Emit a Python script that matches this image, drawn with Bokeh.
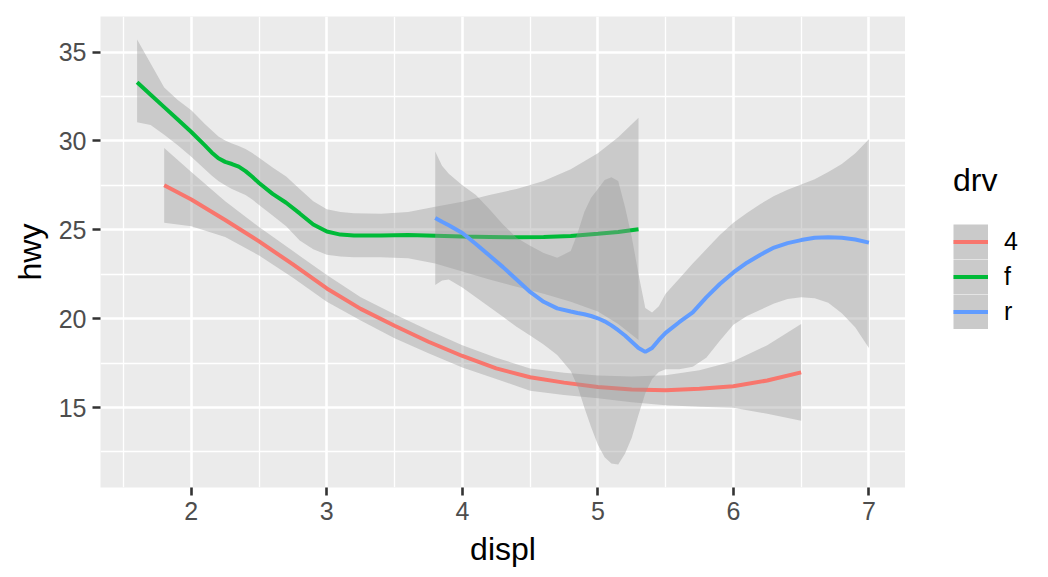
from bokeh.plotting import figure
from bokeh.layouts import row
from bokeh.models import (Range1d, FixedTicker, Legend, LegendItem,
                          ColumnDataSource)
from bokeh.embed import file_html
from bokeh.resources import INLINE

# ---- data (loess fits of hwy ~ displ by drv) ----
x4 = [1.8, 2.0, 2.25, 2.5, 2.75, 3.0, 3.25, 3.5, 3.75, 4.0, 4.25, 4.5, 4.75,
      5.0, 5.25, 5.5, 5.75, 6.0, 6.25, 6.5]
y4 = [27.5, 26.7, 25.55, 24.35, 23.05, 21.7, 20.55, 19.6, 18.7, 17.9, 17.2,
      16.7, 16.4, 16.15, 16.02, 15.97, 16.05, 16.2, 16.52, 16.98]
lo4 = [25.4, 25.2, 24.6, 23.55, 22.3, 20.95, 19.9, 18.9, 18.05, 17.25, 16.6,
       15.95, 15.7, 15.52, 15.3, 15.13, 15.05, 14.98, 14.65, 14.25]
hi4 = [29.6, 28.25, 26.6, 25.15, 23.8, 22.45, 21.2, 20.25, 19.35, 18.5, 17.8,
       17.2, 16.95, 16.8, 16.75, 16.82, 17.1, 17.6, 18.5, 19.7]

xf = [1.6, 1.7, 1.8, 1.9, 2.0, 2.1, 2.15, 2.2, 2.25, 2.3, 2.35, 2.4, 2.45,
      2.5, 2.6, 2.7, 2.8, 2.9, 3.0, 3.1, 3.2, 3.4, 3.6, 3.8, 4.0, 4.2, 4.4,
      4.6, 4.8, 5.0, 5.15, 5.3]
yf = [33.3, 32.6, 31.9, 31.2, 30.5, 29.75, 29.35, 29.02, 28.82, 28.7, 28.55,
      28.3, 27.98, 27.63, 27.02, 26.52, 25.92, 25.3, 24.9, 24.73, 24.68,
      24.68, 24.7, 24.66, 24.62, 24.6, 24.58, 24.6, 24.65, 24.78, 24.88, 25.03]
lof = [31.05, 30.9, 30.35, 29.75, 29.11, 28.4, 28.05, 27.75, 27.5, 27.3,
       27.12, 26.95, 26.7, 26.4, 25.8, 25.2, 24.4, 23.9, 23.6, 23.5, 23.45,
       23.45, 23.4, 23.1, 22.65, 22.2, 21.8, 21.4, 20.95, 20.4, 19.7, 18.8]
hif = [35.7, 34.35, 33.0, 32.3, 31.73, 30.95, 30.6, 30.25, 30.02, 29.85,
       29.72, 29.55, 29.32, 29.05, 28.5, 28.0, 27.3, 26.6, 26.15, 26.0, 25.93,
       25.9, 26.0, 26.3, 26.58, 26.95, 27.3, 27.75, 28.4, 29.3, 30.2, 31.3]

xr = [3.8, 3.85, 3.9, 4.0, 4.1, 4.2, 4.3, 4.4, 4.5, 4.6, 4.7, 4.8, 4.85, 4.9,
      4.95, 5.0, 5.05, 5.1, 5.15, 5.2, 5.25, 5.3, 5.35, 5.4, 5.45, 5.5, 5.6,
      5.7, 5.8, 5.9, 6.0, 6.1, 6.2, 6.3, 6.4, 6.5, 6.6, 6.7, 6.8, 6.9, 7.0]
yr = [25.66, 25.45, 25.25, 24.82, 24.2, 23.55, 22.9, 22.2, 21.5, 20.95, 20.58,
      20.4, 20.32, 20.25, 20.15, 20.02, 19.85, 19.62, 19.35, 19.05, 18.7, 18.35,
      18.13, 18.35, 18.8, 19.2, 19.8, 20.35, 21.2, 21.95, 22.6, 23.15, 23.6,
      24.0, 24.25, 24.42, 24.55, 24.58, 24.55, 24.45, 24.28]
lor = [21.9, 22.15, 22.2, 21.75, 21.2, 20.65, 20.1, 19.55, 19.05, 18.55, 17.95,
       17.05, 16.2, 15.0, 13.9, 12.9, 12.2, 11.85, 11.8, 12.4, 13.3, 14.6,
       15.8, 16.6, 17.0, 17.15, 17.15, 17.3, 17.8, 18.75, 19.65, 20.15, 20.5,
       20.85, 21.1, 21.2, 21.15, 20.9, 20.3, 19.5, 18.35]
hir = [29.4, 28.6, 28.15, 27.5, 26.95, 26.15, 25.3, 24.55, 24.1, 23.7, 23.42,
       23.8, 24.8, 26.0, 26.8, 27.3, 27.8, 27.95, 27.75, 26.3, 24.6, 22.5,
       20.6, 20.35, 20.7, 21.4, 22.25, 23.1, 23.9, 24.7, 25.4, 25.95, 26.45,
       26.9, 27.25, 27.55, 27.85, 28.25, 28.7, 29.3, 30.1]

drv_levels = ["4", "f", "r"]
drv_colors = ["#F8766D", "#00BA38", "#619CFF"]
x_ticks = [2, 3, 4, 5, 6, 7]
x_minor = [1.5, 2.5, 3.5, 4.5, 5.5, 6.5]
y_ticks = [15, 20, 25, 30, 35]
y_minor = [12.5, 17.5, 22.5, 27.5, 32.5]

FONT = "Liberation Sans"

p = figure(width=905, height=569, output_backend="svg", toolbar_location=None,
           x_range=Range1d(1.33, 7.27), y_range=Range1d(10.5, 37.0),
           min_border_left=100, min_border_right=0, min_border_top=16,
           min_border_bottom=81, background_fill_color="#EBEBEB",
           border_fill_color="white", outline_line_color=None)

xt = FixedTicker(ticks=x_ticks, minor_ticks=x_minor)
yt = FixedTicker(ticks=y_ticks, minor_ticks=y_minor)
p.xaxis.ticker = xt
p.xgrid.ticker = xt
p.yaxis.ticker = yt
p.ygrid.ticker = yt

for g in (p.xgrid, p.ygrid):
    g.grid_line_color = "white"
    g.grid_line_width = 2.6
    g.minor_grid_line_color = "white"
    g.minor_grid_line_width = 1.3

for ax in (p.xaxis, p.yaxis):
    ax.axis_line_color = None
    ax.major_tick_out = 8
    ax.major_tick_in = 0
    ax.major_tick_line_color = "#333333"
    ax.major_tick_line_width = 2.6
    ax.minor_tick_line_color = None
    ax.major_label_text_font = FONT
    ax.major_label_text_font_size = "25px"
    ax.major_label_text_color = "#4D4D4D"
    ax.major_label_standoff = 6
    ax.axis_label_text_font = FONT
    ax.axis_label_text_font_size = "32px"
    ax.axis_label_text_font_style = "normal"
    ax.axis_label_text_color = "black"
    ax.axis_label_standoff = 8

p.xaxis.axis_label = "displ"
p.yaxis.axis_label = "hwy"

# legend panel (a separate small figure whose frame only hosts the legend)
leg = figure(width=135, height=569, output_backend="svg", toolbar_location=None,
             x_range=Range1d(-2, -1), y_range=Range1d(-2, -1),
             x_axis_type=None, y_axis_type=None, min_border=0,
             background_fill_color="white", border_fill_color="white",
             outline_line_color=None)
leg.grid.visible = False

series = [(x4, y4, lo4, hi4), (xf, yf, lof, hif), (xr, yr, lor, hir)]
items = []
for (xs, ys, lo, hi), lev, col in zip(series, drv_levels, drv_colors):
    src = ColumnDataSource(dict(x=xs, y=ys, lo=lo, hi=hi))
    p.varea(x="x", y1="lo", y2="hi", source=src, fill_color="#999999",
            fill_alpha=0.4)
    p.line(x="x", y="y", source=src, line_color=col, line_width=4)
    # legend keys: same data, drawn off-range in the legend panel
    key_bg = leg.line(x="x", y="y", source=src, line_color="#CACACA",
                      line_width=35)
    key_ln = leg.line(x="x", y="y", source=src, line_color=col, line_width=4)
    items.append(LegendItem(label=lev, renderers=[key_bg, key_ln]))

legend = Legend(items=items, location=(48, 158), title="drv",
                title_text_font=FONT, title_text_font_size="32px",
                title_text_font_style="normal", title_text_color="black",
                title_standoff=25,
                label_text_font=FONT, label_text_font_size="25px",
                label_text_color="black",
                glyph_width=35, glyph_height=35, spacing=0, padding=0,
                margin=0, label_standoff=16, border_line_color=None,
                background_fill_alpha=0)
leg.add_layout(legend)

layout = row(p, leg, spacing=0)
open("out.html", "w").write(file_html(layout, INLINE))
